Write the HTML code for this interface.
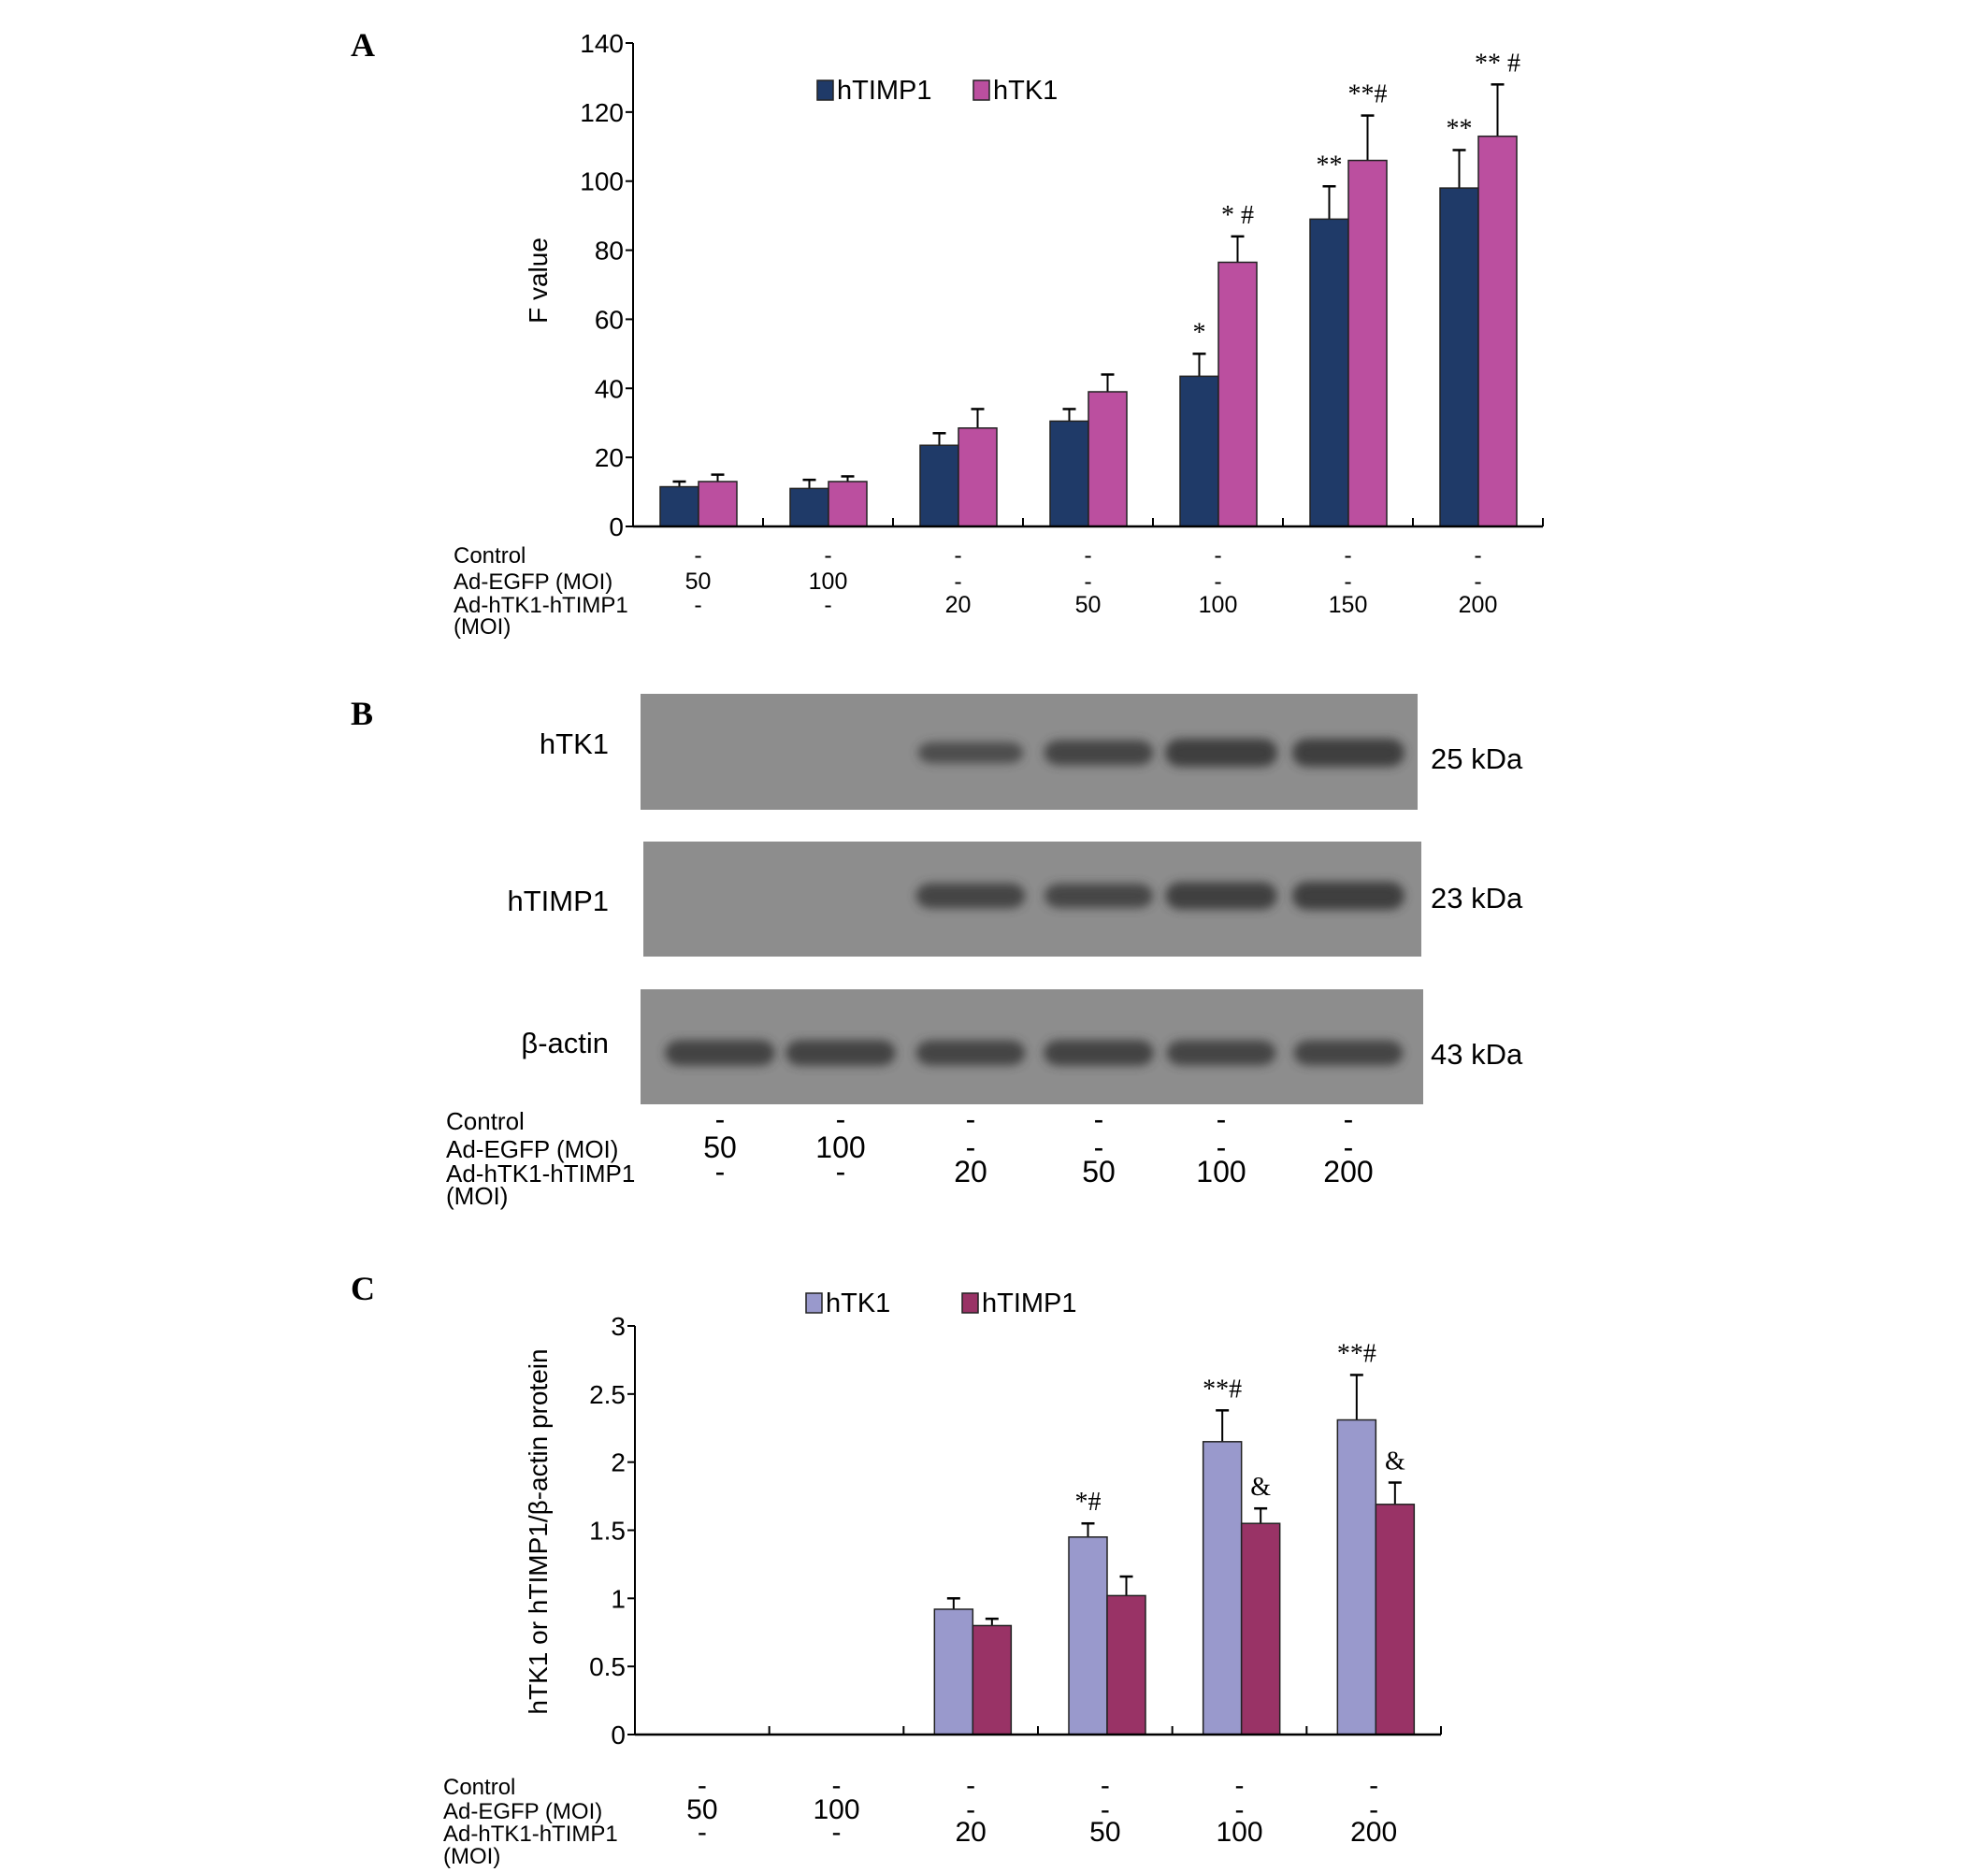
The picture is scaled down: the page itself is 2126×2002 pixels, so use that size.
<!DOCTYPE html>
<html><head><meta charset="utf-8"><style>
body{margin:0;background:#fff}
svg{display:block;font-family:"Liberation Sans",sans-serif}
</style></head><body>
<svg id="fig" width="2126" height="2002" viewBox="0 0 2126 2002">
<defs>
<filter id="blur" x="-20%" y="-50%" width="140%" height="200%"><feGaussianBlur stdDeviation="5"/></filter>
</defs>
<text x="375" y="60" font-family="Liberation Serif" font-weight="bold" font-size="36">A</text>
<text x="375" y="775" font-family="Liberation Serif" font-weight="bold" font-size="36">B</text>
<text x="375" y="1390" font-family="Liberation Serif" font-weight="bold" font-size="36">C</text>
<g id="A"></g><g id="B"></g><g id="C"></g>
</svg>
<script>
// Panel A data
const aGroups = 7;
const aTIMP = [11.5, 11, 23.5, 30.5, 43.5, 89, 98];
const aTIMPerr = [13, 13.5, 27, 34, 50, 98.5, 109];
const aTK = [13, 13, 28.5, 39, 76.5, 106, 113];
const aTKerr = [15, 14.5, 34, 44, 84, 119, 128];
const aTicks = [0, 20, 40, 60, 80, 100, 120, 140];
const aAnnTIMP = ["", "", "", "", "*", "**", "**"];
const aAnnTK = ["", "", "", "", "* #", "**#", "** #"];
const aEGFP = ["50", "100", "-", "-", "-", "-", "-"];
const aAd = ["-", "-", "20", "50", "100", "150", "200"];
// Panel B data (band intensity 0..1)
const bLanes = ["50", "100", "20", "50", "100", "200"];
const bTK1 = [0, 0, 0.55, 0.8, 1, 1];
const bTIMP1 = [0, 0, 0.8, 0.75, 0.95, 1];
const bActin = [0.85, 0.85, 0.8, 0.85, 0.8, 0.8];
// Panel C data
const cGroups = 6;
const cTK = [0, 0, 0.92, 1.45, 2.15, 2.31];
const cTKerr = [0, 0, 1.0, 1.55, 2.38, 2.64];
const cTIMP = [0, 0, 0.8, 1.02, 1.55, 1.69];
const cTIMPerr = [0, 0, 0.85, 1.16, 1.66, 1.85];
const cTicks = [0, 0.5, 1, 1.5, 2, 2.5, 3];
const cAnnTK = ["", "", "", "*#", "**#", "**#"];
const cAnnTIMP = ["", "", "", "", "&", "&"];
const cEGFP = ["50", "100", "-", "-", "-", "-"];
const cAd = ["-", "-", "20", "50", "100", "200"];

const NS = "http://www.w3.org/2000/svg";
function el(parent, tag, attrs, txt) {
  const e = document.createElementNS(NS, tag);
  for (const k in attrs) e.setAttribute(k, attrs[k]);
  if (txt !== undefined) e.textContent = txt;
  parent.appendChild(e);
  return e;
}

function barChart(g, o) {
  const x0 = o.x0, y0 = o.y0, xEnd = o.xEnd;
  const gw = (xEnd - x0) / o.n;
  const ys = v => y0 - (v / o.max) * (y0 - o.yTop);
  o.ticks.forEach(t => {
    const y = ys(t);
    const tk = el(g, "line", {x1: x0 - 8, x2: x0, y1: y, y2: y, stroke: "#000", "stroke-width": 2});
    
    
    const tl = el(g, "text", {x: x0 - 10, y: y + 10, "text-anchor": "end", "font-size": 28}, String(t));
    
    
  });
  for (let i = 0; i <= o.n; i++) {
    const x = x0 + gw * i;
    const xt = el(g, "line", {x1: x, x2: x, y1: y0, y2: y0 - 9, stroke: "#000", "stroke-width": 2});
    
    
  }
  for (let s = 0; s < 2; s++) {
    const vals = o.series[s], errs = o.errs[s], anns = o.anns[s];
    for (let i = 0; i < o.n; i++) {
      if (vals[i] <= 0) continue;
      const x = x0 + gw * i + o.off + s * o.bw;
      const cx = x + o.bw / 2;
      const et = ys(errs[i]);
      const ebl = el(g, "line", {x1: cx, x2: cx, y1: ys(vals[i]), y2: et, stroke: "#000", "stroke-width": 2});
      
      
      const ecap = el(g, "line", {x1: cx - 7, x2: cx + 7, y1: et, y2: et, stroke: "#000", "stroke-width": 2.5});
      
      
      const r = el(g, "rect", {x: x, y: ys(vals[i]), width: o.bw, height: y0 - ys(vals[i]), fill: o.colors[s], stroke: "#222", "stroke-width": 1.5});
      
      
      if (anns[i]) {
        const at = el(g, "text", {x: cx, y: et - 14, "text-anchor": "middle", "font-size": 28, "font-family": "Liberation Serif"}, anns[i]);
        
        
      }
    }
  }
  const ax = el(g, "line", {x1: x0, x2: x0, y1: y0, y2: o.yTop, stroke: "#000", "stroke-width": 2});
  
  
  const xa = el(g, "line", {x1: x0, x2: xEnd, y1: y0, y2: y0, stroke: "#000", "stroke-width": 2.5});
  
  
  const yt = el(g, "text", {transform: `translate(${o.titleX},${o.titleY}) rotate(-90)`, "text-anchor": "middle", "font-size": 28}, o.title);
  
  
  o.legend.forEach(L => {
    const sq = el(g, "rect", {x: L.x, y: L.y - 20, width: 17, height: 21, fill: L.c, stroke: "#222", "stroke-width": 1.5});
    
    
    const lt = el(g, "text", {x: L.x + 21, y: L.y, "font-size": 29}, L.t);
    
    
  });
  return {gw};
}

function condRows(g, o) {
  const labels = ["Control", "Ad-EGFP (MOI)", "Ad-hTK1-hTIMP1", " (MOI)"];
  labels.forEach((t, k) => {
    const tx = el(g, "text", {x: o.lx, y: o.rows[k], "font-size": o.fs, "xml:space": "preserve"}, t);
    
    
  });
  o.centers.forEach((cx, i) => {
    const t0 = el(g, "text", {x: cx, y: o.rows[0], "text-anchor": "middle", "font-size": o.vfs}, "-");
    
    
    const t1 = el(g, "text", {x: cx, y: o.rows[1], "text-anchor": "middle", "font-size": o.vfs}, o.egfp[i]);
    
    
    const t2 = el(g, "text", {x: cx, y: o.rows[2], "text-anchor": "middle", "font-size": o.vfs}, o.ad[i]);
    
    
  });
}

// Panel A
const gA = document.getElementById("A");


const rA = barChart(gA, {x0: 677, y0: 563, xEnd: 1650, yTop: 46, max: 140, n: aGroups, off: 29, bw: 41,
  ticks: aTicks, series: [aTIMP, aTK], errs: [aTIMPerr, aTKerr], anns: [aAnnTIMP, aAnnTK],
  colors: ["#1f3a68", "#bb4f9f"], names: ["htimp1", "htk1"], title: "F value", titleX: 585, titleY: 300,
  legend: [{x: 874, y: 106, c: "#1f3a68", t: "hTIMP1"}, {x: 1041, y: 106, c: "#bb4f9f", t: "hTK1"}]});
condRows(gA, {lx: 485, rows: [602, 630, 655, 678], fs: 24, vfs: 25,
  centers: aTIMP.map((_, i) => 677 + rA.gw * (i + 0.5)), egfp: aEGFP, ad: aAd});

// Panel B
const gB = document.getElementById("B");


const laneX = [770, 899, 1038, 1175, 1306, 1442];
const blots = [
  {name: "hTK1", kda: "25 kDa", x: 685, y: 742, w: 831, h: 124, band: 805, vals: bTK1, ly: 806, ky: 822},
  {name: "hTIMP1", kda: "23 kDa", x: 688, y: 900, w: 832, h: 123, band: 958, vals: bTIMP1, ly: 974, ky: 971},
  {name: "β-actin", kda: "43 kDa", x: 685, y: 1058, w: 837, h: 123, band: 1126, vals: bActin, ly: 1126, ky: 1138}
];
blots.forEach(b => {
  const bg = el(gB, "rect", {x: b.x, y: b.y, width: b.w, height: b.h, fill: "#8d8d8d"});
  
  
  b.vals.forEach((v, i) => {
    if (v <= 0) return;
    const hh = 14 + 16 * v;
    const band = el(gB, "rect", {x: laneX[i] - 52 - 8 * v, y: b.band - hh / 2, width: 104 + 16 * v, height: hh, rx: 16, fill: "#3a3a3a", opacity: 0.55 + 0.4 * v, filter: "url(#blur)"});
    
    
  });
  const lt = el(gB, "text", {x: 651, y: b.ly, "text-anchor": "end", "font-size": 31}, b.name);
  
  
  const kt = el(gB, "text", {x: 1530, y: b.ky, "font-size": 31}, b.kda);
  
  
});
condRows(gB, {lx: 477, rows: [1208, 1238, 1264, 1288], fs: 26, vfs: 32, centers: laneX, egfp: bLanes.map((l, i) => i < 2 ? l : "-"), ad: bLanes.map((l, i) => i < 2 ? "-" : l)});

// Panel C
const gC = document.getElementById("C");


const rC = barChart(gC, {x0: 679, y0: 1855, xEnd: 1541, yTop: 1418, max: 3, n: cGroups, off: 33, bw: 41,
  ticks: cTicks, series: [cTK, cTIMP], errs: [cTKerr, cTIMPerr], anns: [cAnnTK, cAnnTIMP],
  colors: ["#9999cc", "#993366"], names: ["htk1", "htimp1"], title: "hTK1 or hTIMP1/β-actin protein", titleX: 585, titleY: 1638,
  legend: [{x: 862, y: 1403, c: "#9999cc", t: "hTK1"}, {x: 1029, y: 1403, c: "#993366", t: "hTIMP1"}]});
condRows(gC, {lx: 474, rows: [1919, 1945, 1969, 1993], fs: 24, vfs: 30,
  centers: cTK.map((_, i) => 679 + rC.gw * (i + 0.5)), egfp: cEGFP, ad: cAd});
</script>
</body></html>
